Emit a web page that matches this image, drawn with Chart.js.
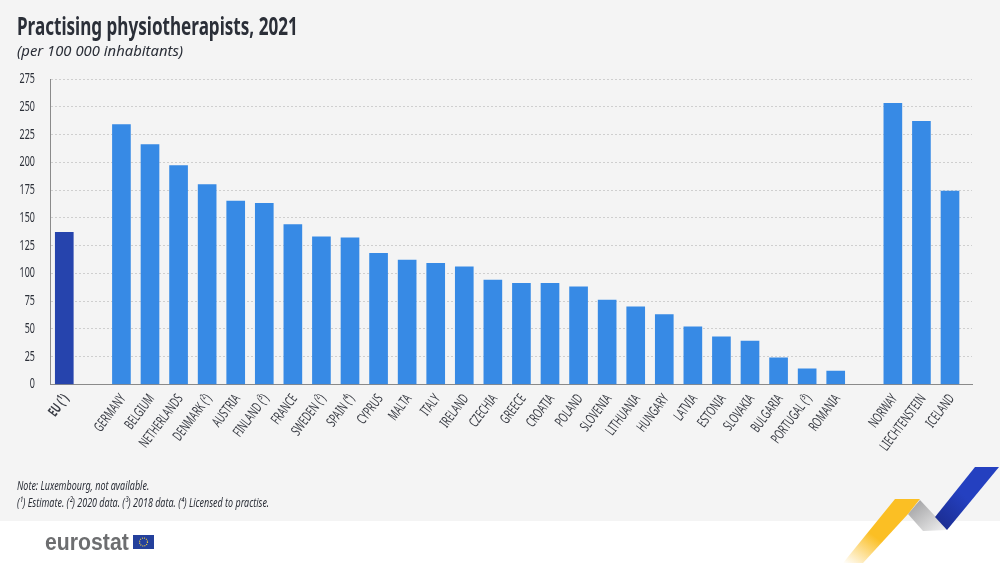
<!DOCTYPE html>
<html lang="en">
<head>
  <meta charset="UTF-8" />
  <title>Practising physiotherapists, 2021</title>
  <style>
    body { margin: 0; background: #fff; font-family: 'Noto Sans', sans-serif; }
    #page { position: relative; width: 1000px; height: 563px; overflow: hidden; }
    #band { position: absolute; left: 0; top: 0; width: 1000px; height: 521px; background: #f4f4f4; }
    #chart { position: absolute; left: 0; top: 0; }
    .text { position: absolute; white-space: nowrap; color: #2b2f38; transform-origin: left top; }
    #title { left: 17px; top: 9px; font-size: 25px; line-height: 32px; font-weight: 700; }
    #subtitle { left: 17px; top: 40px; font-size: 15px; line-height: 20px; font-style: italic; }
    #note { left: 17px; top: 477px; font-size: 12.5px; line-height: 17px; font-style: italic; }
    #logo { left: 45px; top: 530px; font-family: 'Liberation Sans', sans-serif; font-size: 23px; line-height: 24px; font-weight: bold; color: #6d6e70; }
    #deco { position: absolute; left: 0; top: 0; }
  </style>
</head>
<body>
  <div id="page">
    <div id="band"></div>
    <svg id="deco" width="1000" height="563">
      <defs>
        <linearGradient id="yellow" x1="0" y1="1" x2="0.7" y2="0.2">
          <stop offset="0" stop-color="#fbc02d" stop-opacity="0" />
          <stop offset="0.55" stop-color="#fbbf24" />
          <stop offset="1" stop-color="#fbbf24" />
        </linearGradient>
        <linearGradient id="grey" x1="0" y1="0" x2="1" y2="1">
          <stop offset="0" stop-color="#9a9a9c" />
          <stop offset="1" stop-color="#f2f2f2" />
        </linearGradient>
        <linearGradient id="blue" x1="0" y1="1" x2="1" y2="0">
          <stop offset="0" stop-color="#1a2a8a" />
          <stop offset="0.5" stop-color="#2440c0" />
          <stop offset="1" stop-color="#2440c0" />
        </linearGradient>
      </defs>
      <polygon points="920,500 935,516 947,530 923,531 908,514" fill="url(#grey)" />
      <polygon points="895,499 920,499 908,514 863,563 843,563" fill="url(#yellow)" />
      <polygon points="975,467 999,467 947,530 935,517" fill="url(#blue)" />
      <!-- EU flag next to the logo -->
      <rect x="133" y="535" width="21" height="14" fill="#24409c" />
      <circle cx="143.5" cy="542" r="4" fill="none" stroke="#f5d33c" stroke-width="1.2" stroke-dasharray="1 1.1" />
    </svg>
    <canvas id="chart" width="1000" height="563"></canvas>
    <div class="text" id="title" data-w="281">Practising physiotherapists, 2021</div>
    <div class="text" id="subtitle" data-w="166">(per 100 000 inhabitants)</div>
    <div class="text" id="note" data-w="252">Note: Luxembourg, not available.<br>(¹) Estimate. (²) 2020 data. (³) 2018 data. (⁴) Licensed to practise.</div>
    <div class="text" id="logo" data-w="84">eurostat</div>
  </div>

  <script src="https://cdn.jsdelivr.net/npm/chart.js"></script>
  <script>
    // empty strings are the gaps between EU, member states and EFTA
    const categories = ['EU (¹)', '', 'GERMANY', 'BELGIUM', 'NETHERLANDS', 'DENMARK (²)', 'AUSTRIA', 'FINLAND (³)',
      'FRANCE', 'SWEDEN (²)', 'SPAIN (⁴)', 'CYPRUS', 'MALTA', 'ITALY', 'IRELAND', 'CZECHIA', 'GREECE', 'CROATIA',
      'POLAND', 'SLOVENIA', 'LITHUANIA', 'HUNGARY', 'LATVIA', 'ESTONIA', 'SLOVAKIA', 'BULGARIA', 'PORTUGAL (³)',
      'ROMANIA', '', 'NORWAY', 'LIECHTENSTEIN', 'ICELAND'];
    const values = [137, null, 234, 216, 197, 180, 165, 163, 144, 133, 132, 118, 112, 109, 106, 94, 91, 91, 88, 76,
      70, 63, 52, 43, 39, 24, 14, 12, null, 253, 237, 174];
    const yTicks = [0, 25, 50, 75, 100, 125, 150, 175, 200, 225, 250, 275];

    // no condensed font is installed, so squeeze the text horizontally
    const squeeze = 0.64;
    document.querySelectorAll('.text').forEach((el) => {
      el.style.transform = 'scaleX(' + (el.dataset.w / el.offsetWidth) + ')';
    });

    const canvas = document.getElementById('chart');
    const ctx = canvas.getContext('2d');
    const fillText = ctx.fillText;
    ctx.fillText = function (text, x, y) {
      this.save();
      this.translate(x + 3, y);
      this.scale(squeeze, 1);
      fillText.call(this, text, 0, 0);
      this.restore();
    };

    new Chart(ctx, {
      type: 'bar',
      data: {
        datasets: [{
          data: values.map((v, i) => ({ x: i, y: v })),
          backgroundColor: (c) => c.dataIndex === 0 ? '#2644ad' : '#378ae5',
          barThickness: 18
        }]
      },
      options: {
        responsive: false,
        animation: false,
        layout: { padding: { top: 79, right: 28, left: 0, bottom: 0 } },
        plugins: { legend: { display: false }, tooltip: { enabled: false } },
        scales: {
          x: {
            type: 'linear',
            offset: false,
            min: -0.5,
            max: 31.77,
            afterBuildTicks: (s) => { s.ticks = categories.map((_, i) => ({ value: i })); },
            afterFit: (s) => { s.height = 178.5; },
            grid: { display: false },
            border: { color: '#8a8a8a', width: 1 },
            ticks: {
              autoSkip: false,
              minRotation: 53,
              maxRotation: 53,
              padding: 1,
              color: '#3a3d45',
              font: (c) => ({ family: 'Noto Sans', size: 14, weight: c.index === 0 ? 'bold' : 'normal' }),
              callback: (v) => categories[v]
            }
          },
          y: {
            min: 0,
            max: 275,
            afterBuildTicks: (s) => { s.ticks = yTicks.map((v) => ({ value: v })); },
            afterFit: (s) => { s.width = 50; },
            grid: { color: '#cfcfcf', lineWidth: 1, drawTicks: false },
            border: { color: '#8a8a8a', width: 1, dash: [2, 2], display: true },
            ticks: { padding: 18, color: '#2b2f38', font: { family: 'Noto Sans', size: 14 } }
          }
        }
      }
    });
  </script>
</body>
</html>
